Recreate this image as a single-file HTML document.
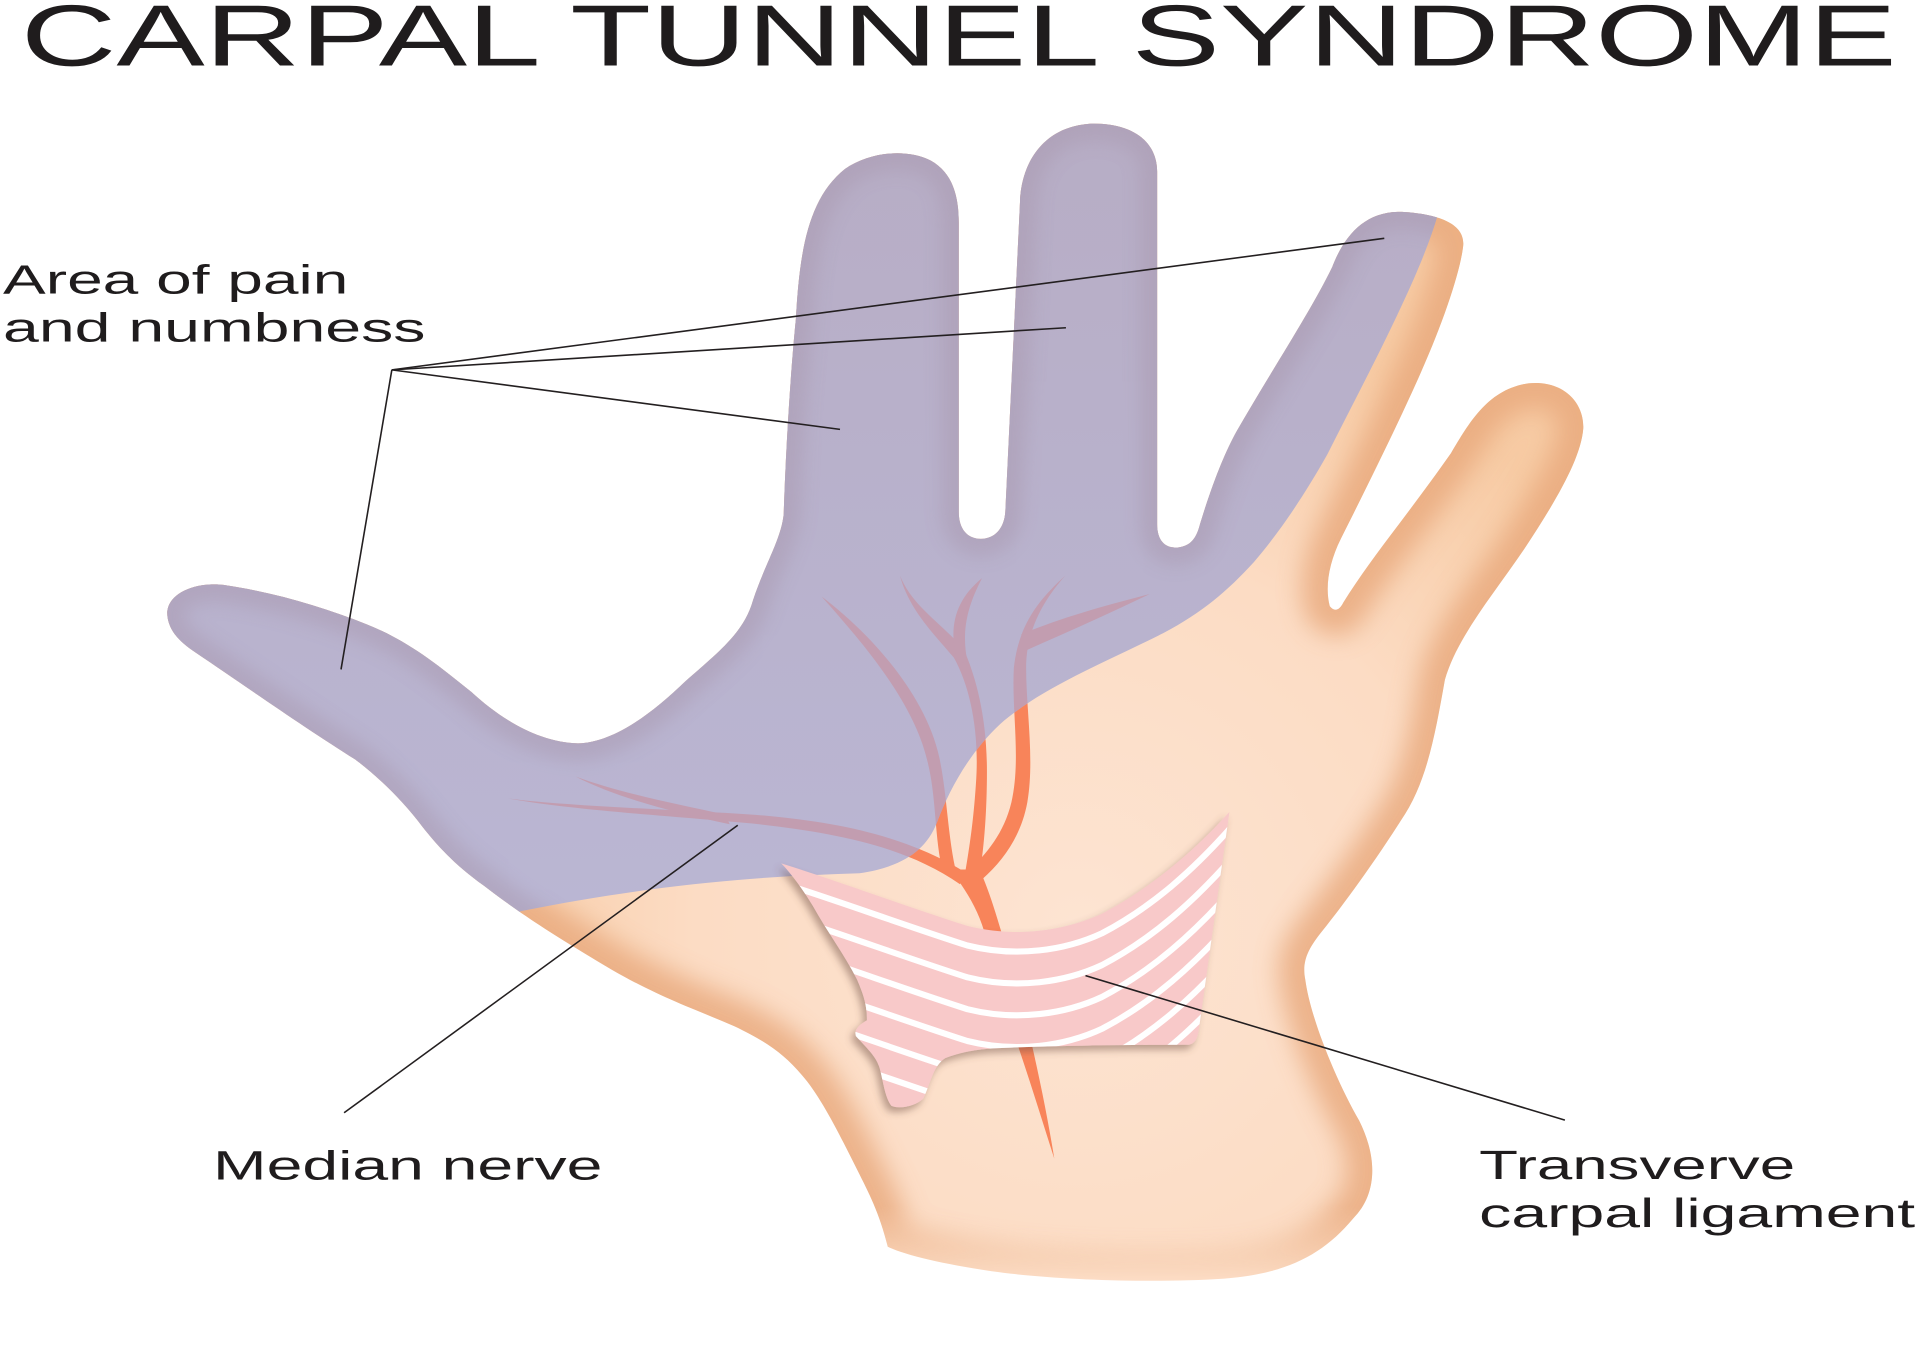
<!DOCTYPE html>
<html>
<head>
<meta charset="utf-8">
<style>
  html,body{margin:0;padding:0;background:#fff;}
  svg{display:block;}
  text{font-family:"Liberation Sans", Arial, sans-serif;fill:#1f1c1d;}
</style>
</head>
<body>
<svg width="1920" height="1357" viewBox="0 0 1568 1108" preserveAspectRatio="none" xmlns="http://www.w3.org/2000/svg">
  <defs>
    <path id="hand" d="M137,505
      C133,485 160,474 185,478
      C225,484 265,496 300,510
      C335,524 360,545 385,565
      C410,588 440,606 472,607
      C500,606 530,585 560,556
      C590,530 608,515 615,490
      C625,460 638,440 640,420
      C642,360 646,300 650,260
      C653,205 660,162 690,138
      C710,124 740,121 760,131
      C778,141 783,160 783,182
      L783,418
      C783,432 790,440 801,440
      C812,440 820,432 821,418
      L833,165
      C834,135 850,104 890,101
      C928,100 945,118 945,140
      L945,428
      C945,442 952,448 962,447
      C972,446 977,440 980,428
      C990,395 1000,370 1010,352
      C1040,300 1070,255 1088,218
      C1098,192 1115,172 1145,173
      C1180,175 1196,185 1195,200
      C1193,220 1180,260 1160,305
      C1140,350 1115,400 1095,440
      C1085,460 1082,480 1086,495
      C1090,500 1094,498 1097,492
      C1120,455 1150,420 1185,370
      C1200,345 1215,318 1248,313
      C1278,310 1294,330 1293,350
      C1291,375 1270,410 1245,448
      C1220,485 1190,520 1180,555
      C1172,600 1165,640 1144,670
      C1125,700 1100,735 1080,760
      C1068,775 1063,785 1066,800
      C1070,830 1090,880 1110,915
      C1125,945 1125,975 1105,995
      C1080,1025 1050,1040 1000,1044
      C940,1048 860,1045 810,1038
      C770,1032 740,1025 725,1018
      C718,990 710,975 700,955
      C685,925 670,895 655,878
      C640,860 625,850 600,838
      C570,825 540,815 500,792
      C460,768 430,750 395,723
      C370,705 357,690 345,675
      C330,655 310,635 290,620
      C250,595 200,560 160,533
      C145,523 139,515 137,505 Z"/>
    <clipPath id="handClip"><use href="#hand"/></clipPath>
    <clipPath id="purpClip">
      <path d="M1186,0 L1180,150 C1177,162 1175,170 1174,176 C1160,225 1120,300 1084,371 C1062,410 1042,438 1024,459 C1002,483 982,500 950,517 C900,542 850,562 817,591 C792,614 775,645 765,672 C756,695 736,708 702,713 C640,715 550,719 425,744 L380,800 L0,800 L0,0 Z"/>
    </clipPath>
    <filter id="blur" x="-20%" y="-20%" width="140%" height="140%">
      <feGaussianBlur stdDeviation="10"/>
    </filter>
    <filter id="blurS" x="-20%" y="-20%" width="140%" height="140%">
      <feGaussianBlur stdDeviation="7"/>
    </filter>
    <filter id="shadow" x="-20%" y="-20%" width="140%" height="140%">
      <feDropShadow dx="-3" dy="4" stdDeviation="3" flood-color="#6b4a40" flood-opacity="0.45"/>
    </filter>
    <linearGradient id="fadeG" gradientUnits="userSpaceOnUse" x1="0" y1="985" x2="0" y2="1045">
      <stop offset="0" stop-color="#fff"/>
      <stop offset="1" stop-color="#000"/>
    </linearGradient>
    <mask id="fadeBottom" maskUnits="userSpaceOnUse" x="0" y="0" width="1568" height="1108">
      <rect x="0" y="0" width="1568" height="1108" fill="url(#fadeG)"/>
    </mask>
    <radialGradient id="skin" gradientUnits="userSpaceOnUse" cx="880" cy="760" r="520">
      <stop offset="0" stop-color="#fde4d2"/>
      <stop offset="0.6" stop-color="#fcdcc4"/>
      <stop offset="1" stop-color="#f7cba4"/>
    </radialGradient>
    <linearGradient id="purp" gradientUnits="userSpaceOnUse" x1="0" y1="100" x2="0" y2="740">
      <stop offset="0" stop-color="#b7adc5"/>
      <stop offset="1" stop-color="#bab6d3"/>
    </linearGradient>
    <g id="nerves">
      <path d="M671,487 C700,520 745,570 757,620 C765,650 763,685 770,712 L783,720 C774,690 774,650 767,618 C756,568 712,518 671,487 Z"/>
      <path d="M735,470 C742,497 762,517 779,537 C793,562 800,600 797,640 C795,670 792,690 788,714 L800,714 C804,690 806,660 806,630 C806,588 798,555 787,530 C768,508 745,495 735,470 Z"/>
      <path d="M782,542 C774,512 780,490 802,472 C790,495 785,515 790,540 Z"/>
      <path d="M870,470 C848,490 832,510 828,545 C826,580 834,620 826,655 C820,680 806,697 790,712 L802,718 C820,702 834,682 839,655 C845,620 838,580 838,545 C838,515 852,490 870,470 Z"/>
      <path d="M834,518 C870,503 905,494 939,485 C906,501 872,516 838,531 Z"/>
      <path d="M415,652 C470,662 560,667 620,673 C680,680 738,690 784,722 L788,712 C742,684 690,672 625,666 C560,661 470,659 415,652 Z"/>
      <path d="M470,634 C505,652 550,663 596,673 L592,665 C550,656 505,647 470,634 Z"/>
      <path d="M776,710 L800,710 C808,728 813,745 819,765 L805,765 C800,745 790,728 776,710 Z"/>
      <path d="M830,850 L842,850 C850,885 856,915 861,946 C852,918 842,885 830,850 Z"/>
    </g>
    <path id="lig" d="M638,705 C680,718 740,740 790,756 C830,766 870,760 900,746 C940,725 975,695 1004,663 L979,841 C978,848 976,852 971,853 C930,853 850,854 811,856 C795,857 782,860 772,864 C762,870 760,885 754,897 C748,903 735,906 728,903 C722,895 721,880 718,871 C715,862 708,856 699,846 C697,840 703,836 708,833 C708,820 705,812 700,800 C690,780 675,760 664,740 C655,725 645,712 638,705 Z"/>
    <clipPath id="ligClip"><use href="#lig"/></clipPath>
    <path id="stripe" d="M590,688 L638,705 C680,718 740,740 790,756 C830,766 870,760 900,746 C940,725 975,695 1012,652" fill="none"/>
  </defs>

  <rect x="0" y="0" width="1568" height="1108" fill="#ffffff"/>

  <!-- Title -->
  <text x="17" y="53.5" font-size="71" textLength="1532" lengthAdjust="spacingAndGlyphs">CARPAL TUNNEL SYNDROME</text>

  <!-- Hand skin -->
  <g clip-path="url(#handClip)">
    <rect x="100" y="80" width="1250" height="1000" fill="url(#skin)"/>
    <g mask="url(#fadeBottom)">
      <use href="#hand" fill="none" stroke="#e8a87c" stroke-width="42" opacity="0.8" filter="url(#blur)"/>
    </g>
    <use href="#nerves" fill="#f8845a"/>
    <!-- purple area -->
    <g clip-path="url(#purpClip)">
      <rect x="100" y="80" width="1250" height="1000" fill="url(#purp)"/>
      <use href="#hand" fill="none" stroke="#a897ad" stroke-width="28" opacity="0.45" filter="url(#blurS)"/>
      <use href="#nerves" fill="#c29db0"/>
    </g>
  </g>

  <!-- Ligament -->
  <use href="#lig" fill="#f8c9c9" filter="url(#shadow)"/>
  <g clip-path="url(#ligClip)" stroke="#ffffff" stroke-width="5" fill="none">
    <use href="#stripe" transform="translate(0,16)"/>
    <use href="#stripe" transform="translate(0,42)"/>
    <use href="#stripe" transform="translate(0,68)"/>
    <use href="#stripe" transform="translate(0,94)"/>
    <use href="#stripe" transform="translate(0,120)"/>
    <use href="#stripe" transform="translate(0,146)"/>
    <use href="#stripe" transform="translate(0,172)"/>
    <use href="#stripe" transform="translate(0,198)"/>
  </g>

  <!-- Leader lines -->
  <g stroke="#231f20" stroke-width="1.3" fill="none">
    <line x1="320" y1="302" x2="278.5" y2="546.6"/>
    <line x1="320" y1="302" x2="686" y2="350.6"/>
    <line x1="320" y1="302" x2="870.5" y2="267.6"/>
    <line x1="320" y1="302" x2="1130.5" y2="194.6"/>
    <line x1="602.5" y1="673.8" x2="281" y2="908.6"/>
    <line x1="886.5" y1="796.6" x2="1278" y2="914.6"/>
  </g>

  <!-- Labels -->
  <text x="2.5" y="239.5" font-size="33.5" textLength="282" lengthAdjust="spacingAndGlyphs">Area of pain</text>
  <text x="2.5" y="279" font-size="33.5" textLength="345" lengthAdjust="spacingAndGlyphs">and numbness</text>
  <text x="174" y="963" font-size="33.5" textLength="318" lengthAdjust="spacingAndGlyphs">Median nerve</text>
  <text x="1208" y="962.6" font-size="33.5" textLength="258" lengthAdjust="spacingAndGlyphs">Transverve</text>
  <text x="1208" y="1002" font-size="33.5" textLength="356" lengthAdjust="spacingAndGlyphs">carpal ligament</text>
</svg>
</body>
</html>
